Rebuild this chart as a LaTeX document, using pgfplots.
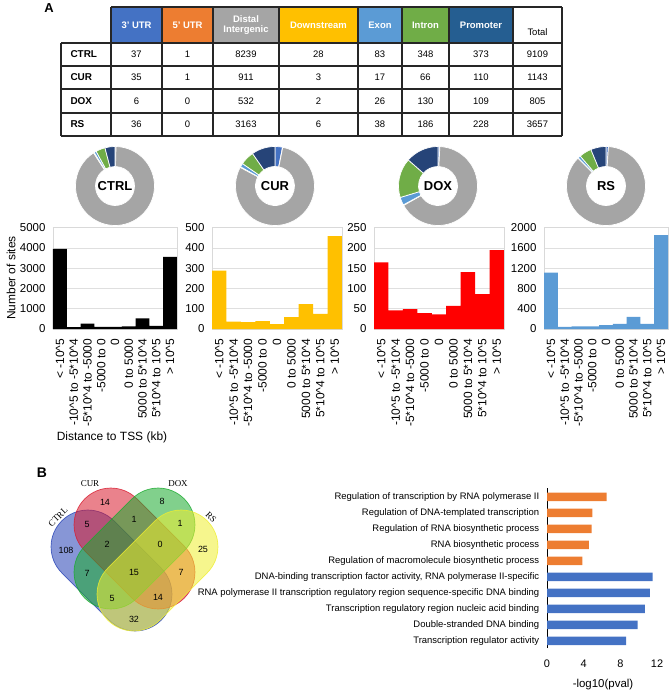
\documentclass[border=0pt]{standalone}
\usepackage{pgfplots}
\pgfplotsset{compat=1.18}
\usepackage{fontspec}
\setmainfont{Liberation Sans}
\newfontfamily\vennserif{Liberation Serif}
\newcommand\fs[1]{\fontsize{#1}{#1}\selectfont}

\definecolor{cUTRiii}{HTML}{4472C4}
\definecolor{cUTRv}{HTML}{ED7D31}
\definecolor{cDistal}{HTML}{A5A5A5}
\definecolor{cDown}{HTML}{FFC000}
\definecolor{cExon}{HTML}{5B9BD5}
\definecolor{cIntron}{HTML}{70AD47}
\definecolor{cProm}{HTML}{255E91}
\definecolor{cPromD}{HTML}{264478}
\definecolor{vBlue}{HTML}{2440B4}
\definecolor{vRed}{HTML}{D81B2E}
\definecolor{vGreen}{HTML}{1AAA2E}
\definecolor{vYellow}{HTML}{EEEE30}

% donut: center x, center y, total, value/colour list, label
\newcommand\donut[5]{%
  \begin{scope}[shift={(#1,#2)}]
    \foreach \v/\c [remember=\e as \s (initially 0), evaluate=\v as \e using \s+\v] in {#4} {
      \pgfmathsetmacro\aa{90-360*(\s/#3)}
      \pgfmathsetmacro\bb{90-360*(\e/#3)}
      \filldraw[fill=\c, draw=white, line width=0.7bp] (\aa:39.5bp) arc[start angle=\aa, end angle=\bb, radius=39.5bp]
        -- (\bb:19.5bp) arc[start angle=\bb, end angle=\aa, radius=19.5bp] -- cycle;
    }
    \node[font=\bfseries\fs{13}] at (0,0) {#5};
  \end{scope}}

% Venn set: colour, centre x, centre y, angle
\newcommand\vset[4]{%
  \filldraw[fill=#1, fill opacity=0.55, draw=#1, draw opacity=0.8, line width=0.7bp,
    rounded corners=36.8bp, rotate around={#4:(#2,#3)}]
    ({#2-70.25},{#3-36.8}) rectangle ({#2+70.25},{#3+36.8});}

\pgfplotsset{
  hist/.style={
    scale only axis, anchor=south west, height=101.5bp,
    ybar, bar width=1, ymin=0, xmin=-0.5, xmax=8.5,
    axis line style={draw=gray!30},
    ymajorgrids, grid style={gray!25, line width=0.6bp},
    tick style={draw=none},
    xtick={0,...,8},
    xticklabels={{< -10\textasciicircum5}, {-10\textasciicircum5 to -5*10\textasciicircum4},
      {-5*10\textasciicircum4 to -5000}, {-5000 to 0}, {0}, {0 to 5000},
      {5000 to 5*10\textasciicircum4}, {5*10\textasciicircum4 to 10\textasciicircum5}, {> 10\textasciicircum5}},
    xticklabel style={rotate=90, anchor=east, font=\fs{12}, xshift=-2bp},
    yticklabel style={font=\fs{11.5}, xshift=-4bp},
    scaled y ticks=false,
    /pgf/number format/1000 sep={},
    /pgf/number format/assume math mode=true,
  }
}

\begin{document}
\begin{tikzpicture}
\path[use as bounding box] (0,0) rectangle (669bp,-691bp);

\begin{scope}[x=1bp, y=-1bp]
  \node[font=\bfseries\fs{13}] at (49,8) {A};
  \node[font=\bfseries\fs{14}] at (42,473) {B};

  % ---- table ----
  \foreach \xa/\xb/\c in {111/162/cUTRiii, 162/213/cUTRv, 213/279/cDistal, 279/358/cDown,
                          358/402/cExon, 402/449/cIntron, 449/513/cProm}
    \fill[\c] (\xa,7) rectangle (\xb,43);
  \begin{scope}[line width=1.1bp, draw=black!85]
    \draw (111,7) -- (562,7);
    \foreach \y in {43,66,89,113,136} \draw (61,\y) -- (562,\y);
    \draw (61,43) -- (61,136);
    \foreach \x in {111,162,213,279,358,402,449,513,562} \draw (\x,7) -- (\x,136);
  \end{scope}
  \begin{scope}[font=\bfseries\fs{9.5}, text=white]
    \node at (136.5,25) {3' UTR};
    \node at (187.5,25) {5' UTR};
    \node[align=center] at (246,25) {Distal\\[1pt]Intergenic};
    \node at (318.5,25) {Downstream};
    \node at (380,25) {Exon};
    \node at (425.5,25) {Intron};
    \node at (481,25) {Promoter};
  \end{scope}
  \node[font=\fs{9.5}] at (537.5,32) {Total};
  \foreach \lab/\y/\a/\b/\c/\d/\e/\f/\g/\t in {
      CTRL/54.5/37/1/8239/28/83/348/373/9109,
      CUR/77.5/35/1/911/3/17/66/110/1143,
      DOX/101/6/0/532/2/26/130/109/805,
      RS/124.5/36/0/3163/6/38/186/228/3657} {
    \node[font=\bfseries\fs{10}, anchor=west] at (67,\y) {\lab};
    \begin{scope}[font=\fs{9.5}]
      \node at (136.5,\y) {\a};
      \node at (187.5,\y) {\b};
      \node at (246,\y) {\c};
      \node at (318.5,\y) {\d};
      \node at (380,\y) {\e};
      \node at (425.5,\y) {\f};
      \node at (481,\y) {\g};
      \node at (537.5,\y) {\t};
    \end{scope}
  }

  % ---- donuts ----
  \donut{115}{186}{9109}{37/cUTRiii, 1/cUTRv, 8239/cDistal, 28/cDown, 83/cExon, 348/cIntron, 373/cPromD}{CTRL}
  \donut{275}{186}{1143}{35/cUTRiii, 1/cUTRv, 911/cDistal, 3/cDown, 17/cExon, 66/cIntron, 110/cPromD}{CUR}
  \donut{438}{186}{805}{6/cUTRiii, 0/cUTRv, 532/cDistal, 2/cDown, 26/cExon, 130/cIntron, 109/cPromD}{DOX}
  \donut{606}{186}{3657}{36/cUTRiii, 0/cUTRv, 3163/cDistal, 6/cDown, 38/cExon, 186/cIntron, 228/cPromD}{RS}

  % ---- axis titles of the histograms ----
  \node[rotate=90, font=\fs{12}] at (11,278) {Number of sites};
  \node[font=\fs{12}] at (112,437) {Distance to TSS (kb)};

  % ---- Venn diagram ----
  \vset{vBlue}{111.5}{570.5}{-45}
  \vset{vRed}{134.5}{548.5}{-45}
  \vset{vGreen}{134.5}{548.5}{45}
  \vset{vYellow}{157.5}{570.5}{45}
  \begin{scope}[font=\vennserif\fs{9}]
    \node at (90,484) {CUR};
    \node at (178,484) {DOX};
    \node[rotate=45, inner sep=0pt] at (58,517) {CTRL};
    \node[rotate=-45, inner sep=0pt] at (211,517) {RS};
  \end{scope}
  \begin{scope}[font=\fs{9}]
    \foreach \x/\y/\n in {105/502/14, 162/501/8, 87/524/5, 134/519/1, 180/523/1,
        66/550/108, 107/544/2, 160/544/0, 203/549/25, 87/573/7, 134/572/15,
        181/572/7, 112/598/5, 158/597/14, 134/619/32}
      \node at (\x,\y) {\n};
  \end{scope}
  \node[font=\fs{11.5}] at (603,685) {-log10(pval)};
\end{scope}

% ---- histograms ----
\begin{axis}[hist, at={(53bp,-329bp)}, width=124bp, ymax=5000, ytick distance=1000]
  \addplot[fill=black, draw=none] coordinates {
    (0,3950) (1,90) (2,270) (3,100) (4,100) (5,130) (6,520) (7,150) (8,3550)};
\end{axis}
\begin{axis}[hist, at={(212bp,-329bp)}, width=130bp, ymax=500, ytick distance=100]
  \addplot[fill=cDown, draw=none] coordinates {
    (0,288) (1,36) (2,34) (3,39) (4,24) (5,58) (6,122) (7,75) (8,458)};
\end{axis}
\begin{axis}[hist, at={(374bp,-329bp)}, width=130bp, ymax=250, ytick distance=50]
  \addplot[fill=red, draw=none] coordinates {
    (0,164) (1,46) (2,49) (3,39) (4,36) (5,57) (6,140) (7,86) (8,194)};
\end{axis}
\begin{axis}[hist, at={(544bp,-329bp)}, width=124bp, ymax=2000, ytick distance=400]
  \addplot[fill=cExon, draw=none] coordinates {
    (0,1110) (1,40) (2,54) (3,54) (4,75) (5,100) (6,237) (7,100) (8,1850)};
\end{axis}

% ---- GO enrichment bars ----
\begin{axis}[
  scale only axis, anchor=south west, at={(547bp,-648bp)},
  width=110bp, height=160bp,
  xbar, bar width=8.5bp,
  xmin=0, xmax=12, ymin=-0.45, ymax=9.55,
  axis x line*=bottom, axis y line*=left,
  x axis line style={draw=none},
  y axis line style={draw=black, line width=0.8bp},
  tick style={draw=none},
  xtick={0,4,8,12},
  xticklabel style={font=\fs{11}, yshift=-8bp},
  ytick={0,...,9},
  yticklabels={Transcription regulator activity, Double-stranded DNA binding,
    Transcription regulatory region nucleic acid binding,
    RNA polymerase II transcription regulatory region sequence-specific DNA binding,
    {DNA-binding transcription factor activity, RNA polymerase II-specific},
    Regulation of macromolecule biosynthetic process, RNA biosynthetic process,
    Regulation of RNA biosynthetic process, Regulation of DNA-templated transcription,
    Regulation of transcription by RNA polymerase II},
  yticklabel style={font=\fs{9.5}},
  /pgf/number format/assume math mode=true,
]
  \addplot[fill=cUTRiii, draw=none, bar shift=0pt] coordinates {
    (8.62,0) (9.89,1) (10.69,2) (11.23,3) (11.53,4)};
  \addplot[fill=cUTRv, draw=none, bar shift=0pt] coordinates {
    (3.85,5) (4.58,6) (4.87,7) (4.94,8) (6.51,9)};
\end{axis}
\end{tikzpicture}
\end{document}
